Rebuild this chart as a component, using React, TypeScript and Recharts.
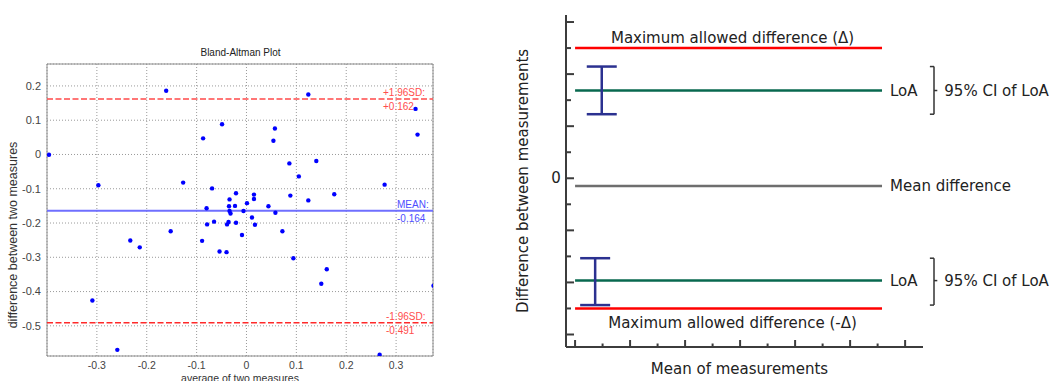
import React from 'react'
import {
  ScatterChart,
  ComposedChart,
  Scatter,
  XAxis,
  YAxis,
  CartesianGrid,
  ReferenceLine,
  ReferenceArea,
  ErrorBar,
} from 'recharts'

// Bland-Altman sample: average of the two measures (x) and their difference (y)
const avgValues = [
  -0.161, -0.396, -0.297, -0.127, -0.087, -0.049, -0.069, 0.057, 0.054, 0.14,
  0.086, 0.105, -0.021, 0.015, 0.015, -0.034, 0.088, 0.124, 0.001, -0.035,
  -0.023, 0.044, -0.08, -0.034, -0.006, -0.032, 0.058, 0.011, -0.065, -0.036,
  -0.021, -0.039, -0.079, 0.017, -0.009, 0.072, -0.089, -0.054, -0.04, 0.094,
  0.124, 0.339, 0.343, 0.277, 0.176, 0.161, 0.15, 0.375, 0.267, -0.309,
  -0.259, -0.233, -0.214, -0.152,
]
const diffValues = [
  0.186, -0.001, -0.09, -0.082, 0.047, 0.088, -0.099, 0.076, 0.04, -0.019,
  -0.026, -0.064, -0.113, -0.117, -0.13, -0.131, -0.12, -0.134, -0.142, -0.151,
  -0.15, -0.151, -0.157, -0.165, -0.165, -0.172, -0.17, -0.184, -0.196, -0.197,
  -0.199, -0.204, -0.204, -0.205, -0.235, -0.224, -0.252, -0.283, -0.285, -0.303,
  0.175, 0.133, 0.058, -0.088, -0.116, -0.335, -0.377, -0.383, -0.584, -0.426,
  -0.57, -0.251, -0.271, -0.224,
]
const avgTicks = [-0.3, -0.2, -0.1, 0, 0.1, 0.2, 0.3]
const diffTicks = [-0.5, -0.4, -0.3, -0.2, -0.1, 0, 0.1, 0.2]

const upperLimit = 0.162
const meanBias = -0.164
const lowerLimit = -0.491

// Schematic: upper and lower halves (limit, LoA and its 95% CI)
const maxAllowed = [5, -5]
const maxAllowedText = ['Maximum allowed difference (\u0394)', 'Maximum allowed difference (-\u0394)']
const loaValues = [3.37, -3.93]
const ciLow = [2.46, -4.87]
const ciHigh = [4.29, -3.07]
const ciAt = [0.97, 0.73]
const meanDifference = -0.3
const lineFrom = 0
const lineTo = 11.16
const braceAt = 13.05
const schemeXTicks = [0, 1, 2, 3, 4, 5, 6, 7, 8, 9, 10, 11, 12]
const schemeYTicks = [-6, -5, -4, -3, -2, -1, 0, 1, 2, 3, 4, 5, 6]

const plotFont = '"Liberation Sans", Arial, Helvetica, sans-serif'
const schemeFont = '"DejaVu Sans", Verdana, sans-serif'

const signed = (v: number) => `${v > 0 ? '+' : ''}${v.toFixed(3)}`

// two-line tag sitting above/below a limit line, near the right edge
const limitTag = (title: string, value: number, color: string, inset: number) => (props: any) => {
  const { viewBox } = props
  const x = viewBox.x + viewBox.width - inset
  return (
    <g fontFamily={plotFont} fontSize={10} fill={color}>
      <text x={x} y={viewBox.y - 3}>{title}</text>
      <text x={x} y={viewBox.y + 11.5}>{signed(value)}</text>
    </g>
  )
}

function BlandAltmanPlot() {
  const points = avgValues.map((a, i) => ({ avg: a, diff: diffValues[i] }))
  const xDomain = [-0.4, 0.374]
  const yDomain = [-0.588, 0.264]

  return (
    <div style={{ position: 'absolute', left: 0, top: 0 }}>
      <div
        style={{
          position: 'absolute',
          left: 0,
          width: 481,
          top: 47,
          textAlign: 'center',
          fontFamily: plotFont,
          fontSize: 10,
          color: '#222',
        }}
      >
        Bland-Altman Plot
      </div>
      <ScatterChart width={470} height={381} margin={{ top: 64, right: 37, left: 0, bottom: 0 }}>
        <CartesianGrid stroke="#9a9a9a" strokeDasharray="1 2" />
        <XAxis
          type="number"
          dataKey="avg"
          domain={xDomain}
          ticks={avgTicks}
          allowDataOverflow
          height={25}
          axisLine={false}
          tickLine={false}
          tickSize={0}
          tickMargin={6}
          tick={{ fontSize: 10.5, fill: '#444', fontFamily: plotFont }}
          label={(p: any) => (
            <text
              x={p.viewBox.x + p.viewBox.width / 2}
              y={p.viewBox.y + 26}
              textAnchor="middle"
              fontFamily={plotFont}
              fontSize={10.5}
              fill="#333"
            >
              average of two measures
            </text>
          )}
        />
        <YAxis
          type="number"
          dataKey="diff"
          domain={yDomain}
          ticks={diffTicks}
          allowDataOverflow
          width={47}
          axisLine={false}
          tickLine={false}
          tickSize={0}
          tickMargin={6}
          tick={{ fontSize: 11, fill: '#444', fontFamily: plotFont }}
          label={(p: any) => {
            const cx = 13
            const cy = p.viewBox.y + p.viewBox.height / 2 + 25
            return (
              <text
                x={cx}
                y={cy}
                transform={`rotate(-90 ${cx} ${cy})`}
                textAnchor="middle"
                dominantBaseline="central"
                fontFamily={plotFont}
                fontSize={12.5}
                fill="#333"
              >
                difference between two measures
              </text>
            )
          }}
        />
        <ReferenceArea
          x1={xDomain[0]}
          x2={xDomain[1]}
          y1={yDomain[0]}
          y2={yDomain[1]}
          fill="none"
          stroke="#8c8c8c"
          strokeWidth={1}
        />
        <ReferenceLine
          y={upperLimit}
          stroke="#ff4a4a"
          strokeWidth={1.5}
          strokeDasharray="6 2.5"
          label={limitTag('+1.96SD:', upperLimit, '#ff4d4d', 50)}
        />
        <ReferenceLine
          y={meanBias}
          stroke="#6f6fff"
          strokeWidth={2}
          label={limitTag('MEAN:', meanBias, '#4d4dff', 36)}
        />
        <ReferenceLine
          y={lowerLimit}
          stroke="#ff2a2a"
          strokeWidth={1.5}
          strokeDasharray="6 2.5"
          label={limitTag('-1.96SD:', lowerLimit, '#ff4d4d', 47)}
        />
        <Scatter
          data={points}
          isAnimationActive={false}
          shape={(p: any) => <circle cx={p.cx} cy={p.cy} r={2.2} fill="#0000ff" />}
        />
      </ScatterChart>
    </div>
  )
}

const SchemeXTick = (p: any) => {
  const len = p.payload.value % 2 === 0 ? 7 : 3.5
  return <line x1={p.x} x2={p.x} y1={p.y} y2={p.y - len} stroke="#3c3c3c" strokeWidth={2} />
}

const SchemeYTick = (p: any) => {
  const len = p.payload.value % 2 === 0 ? 8 : 5
  return (
    <g>
      <line x1={p.x} x2={p.x + len} y1={p.y} y2={p.y} stroke="#3c3c3c" strokeWidth={2} />
      {p.payload.value === 0 && (
        <text
          x={p.x - 10}
          y={p.y}
          textAnchor="middle"
          dominantBaseline="central"
          fontFamily={schemeFont}
          fontSize={15}
          fill="#222"
        >
          0
        </text>
      )}
    </g>
  )
}

function AgreementScheme() {
  const ciPoints = loaValues.map((v, i) => ({
    x: ciAt[i],
    y: v,
    ci: [v - ciLow[i], ciHigh[i] - v],
  }))
  const textStyle = { fontFamily: schemeFont, fontSize: 15, fill: '#222' }
  const braceStroke = { stroke: '#333', strokeWidth: 1.5 }

  return (
    <div style={{ position: 'absolute', left: 470, top: 0 }}>
      <ComposedChart width={589} height={381} margin={{ top: 15, right: 136, left: 0, bottom: 0 }}>
        <XAxis
          type="number"
          dataKey="x"
          domain={[-0.33, 12.65]}
          ticks={schemeXTicks}
          allowDataOverflow
          height={34}
          axisLine={{ stroke: '#3c3c3c', strokeWidth: 2 }}
          tickLine={false}
          tickSize={0}
          tickMargin={0}
          tick={(p: any) => <SchemeXTick {...p} />}
          label={(p: any) => (
            <text
              x={p.viewBox.x + p.viewBox.width / 2 - 5}
              y={p.viewBox.y + 22}
              textAnchor="middle"
              dominantBaseline="central"
              {...textStyle}
            >
              Mean of measurements
            </text>
          )}
        />
        <YAxis
          type="number"
          dataKey="y"
          domain={[-6.48, 6.27]}
          ticks={schemeYTicks}
          allowDataOverflow
          width={96}
          axisLine={{ stroke: '#3c3c3c', strokeWidth: 2 }}
          tickLine={false}
          tickSize={0}
          tickMargin={0}
          tick={(p: any) => <SchemeYTick {...p} />}
          label={(p: any) => {
            const cx = p.viewBox.x + p.viewBox.width - 43
            const cy = p.viewBox.y + p.viewBox.height / 2
            return (
              <text
                x={cx}
                y={cy}
                transform={`rotate(-90 ${cx} ${cy})`}
                textAnchor="middle"
                dominantBaseline="central"
                {...textStyle}
              >
                Difference between measurements
              </text>
            )
          }}
        />

        {maxAllowed.map((v, i) => (
          <ReferenceLine
            key={`max-${i}`}
            segment={[{ x: lineFrom, y: v }, { x: lineTo, y: v }]}
            stroke="#ff0000"
            strokeWidth={2.5}
            label={{
              value: maxAllowedText[i],
              position: v > 0 ? 'top' : 'bottom',
              offset: v > 0 ? 5 : 9,
              dx: 4,
              ...textStyle,
            }}
          />
        ))}

        {loaValues.map((v, i) => (
          <ReferenceLine
            key={`loa-${i}`}
            segment={[{ x: lineFrom, y: v }, { x: lineTo, y: v }]}
            stroke="#08694f"
            strokeWidth={2.5}
            label={{ value: 'LoA', position: 'right', offset: 8, ...textStyle }}
          />
        ))}

        <ReferenceLine
          segment={[{ x: lineFrom, y: meanDifference }, { x: lineTo, y: meanDifference }]}
          stroke="#6e6e6e"
          strokeWidth={2.5}
          label={{ value: 'Mean difference', position: 'right', offset: 8, ...textStyle }}
        />

        {/* bracket marking the CI span of each LoA */}
        {loaValues.map((v, i) => (
          <React.Fragment key={`brace-${i}`}>
            <ReferenceLine
              segment={[{ x: braceAt, y: ciLow[i] }, { x: braceAt, y: ciHigh[i] }]}
              ifOverflow="visible"
              {...braceStroke}
            />
            <ReferenceLine
              segment={[{ x: braceAt - 0.15, y: ciHigh[i] }, { x: braceAt, y: ciHigh[i] }]}
              ifOverflow="visible"
              {...braceStroke}
            />
            <ReferenceLine
              segment={[{ x: braceAt - 0.15, y: ciLow[i] }, { x: braceAt, y: ciLow[i] }]}
              ifOverflow="visible"
              {...braceStroke}
            />
            <ReferenceLine
              segment={[{ x: braceAt, y: v }, { x: braceAt + 0.12, y: v }]}
              ifOverflow="visible"
              {...braceStroke}
              label={{ value: '95% CI of LoA', position: 'right', offset: 7, ...textStyle }}
            />
          </React.Fragment>
        ))}

        <Scatter data={ciPoints} isAnimationActive={false} shape={() => <g />}>
          <ErrorBar
            dataKey="ci"
            direction="y"
            width={15}
            stroke="#2b3190"
            strokeWidth={2.5}
            isAnimationActive={false}
          />
        </Scatter>
      </ComposedChart>
    </div>
  )
}

export default function App() {
  return (
    <div
      style={{
        position: 'absolute',
        left: 0,
        top: 0,
        width: 1059,
        height: 381,
        overflow: 'hidden',
        background: '#fff',
      }}
    >
      <BlandAltmanPlot />
      <AgreementScheme />
    </div>
  )
}
